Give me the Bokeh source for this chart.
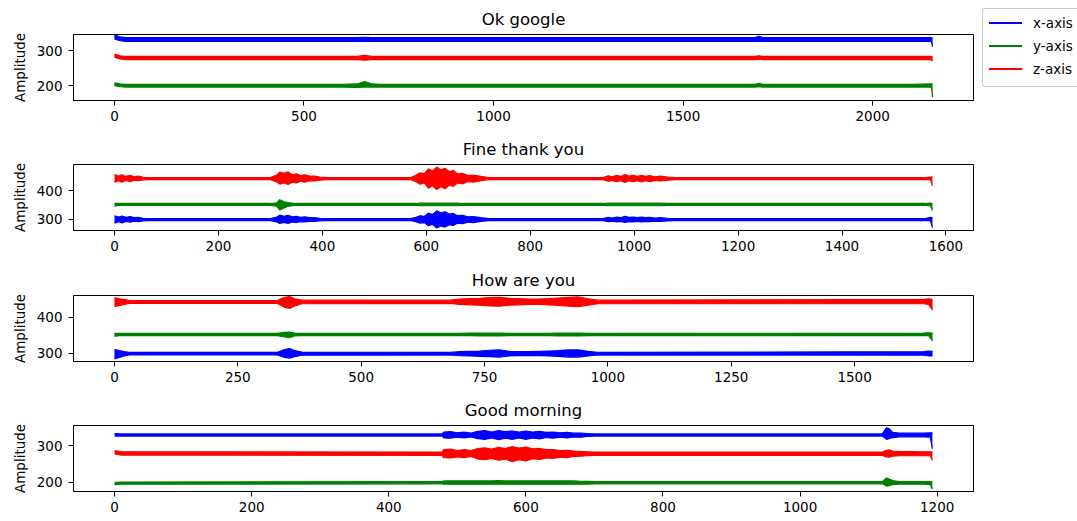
from bokeh.plotting import figure
from bokeh.layouts import column, row
from bokeh.models import FixedTicker, Range1d, Div
from bokeh.embed import file_html
from bokeh.resources import INLINE

# ---------------- data (envelopes) ----------------
TITLES = ["Ok google", "Fine thank you", "How are you", "Good morning"]
SERIES_NAMES = ["x-axis", "y-axis", "z-axis"]
COLORS = ["#0000ff", "#008000", "#ff0000"]

# Ok google
s1_x = [0, 15, 30, 200, 400, 600, 640, 660, 680, 700, 900, 1100, 1300, 1500, 1690, 1700, 1710, 1900, 2100, 2150, 2155, 2158]
s1_x_lo = [334, 329, 327, 327, 327, 327, 327, 327, 327, 327, 327, 327, 327, 327, 327, 328, 327, 327, 327, 327, 326, 312]
s1_x_hi = [345, 340, 338, 338, 338, 338, 338, 339, 338, 338, 338, 338, 338, 338, 338, 342, 338, 338, 338, 338, 338, 337]
s1_y_lo = [200, 197, 196, 196, 196, 196, 195, 196, 196, 196, 196, 196, 196, 196, 196, 197, 196, 196, 196, 196, 195, 167]
s1_y_hi = [208, 205, 204, 204, 204, 204, 205, 212, 205, 204, 204, 204, 204, 204, 204, 207, 204, 204, 204, 205, 205, 205]
s1_z_lo = [282, 277, 275, 275, 275, 275, 275, 273, 275, 275, 275, 275, 275, 275, 275, 276, 275, 275, 275, 275, 274, 271]
s1_z_hi = [291, 286, 284, 284, 284, 284, 284, 287, 284, 284, 284, 284, 284, 284, 284, 286, 284, 284, 284, 284, 284, 283]

# Fine thank you
s2_x = [0, 8, 14, 22, 30, 38, 46, 55, 65,
        300, 312, 318, 326, 334, 342, 350, 358, 366, 375, 385, 395, 410,
        570, 580, 588, 596, 604, 612, 620, 628, 636, 644, 652, 660, 670, 680, 690, 705, 720,
        940, 950, 958, 966, 974, 982, 990, 998, 1006, 1014, 1022, 1030, 1040, 1050, 1065, 1080,
        1560, 1570, 1574]
s2_x_lo = [287, 292, 288, 293, 290, 294, 292, 295, 296,
           296, 291, 286, 289, 286, 291, 289, 292, 291, 293, 293, 295, 296,
           296, 292, 287, 289, 278, 283, 270, 277, 273, 281, 279, 287, 285, 290, 289, 293, 296,
           296, 292, 294, 291, 293, 289, 292, 291, 293, 291, 293, 292, 294, 293, 295, 296,
           296, 296, 271]
s2_x_hi = [313, 308, 312, 307, 310, 306, 307, 304, 303,
           303, 308, 315, 311, 314, 309, 311, 307, 309, 306, 306, 304, 303,
           303, 307, 313, 310, 322, 317, 330, 323, 327, 319, 321, 313, 314, 309, 310, 306, 303,
           303, 307, 305, 308, 306, 311, 307, 308, 306, 308, 306, 307, 305, 306, 304, 303,
           303, 307, 306]
s2_y_lo = [347, 349, 349, 349, 349, 349, 349, 349, 349,
           349, 347, 333, 340, 346, 348, 349, 349, 349, 349, 349, 349, 349,
           349, 349, 348, 348, 348, 348, 348, 348, 348, 348, 348, 348, 349, 349, 349, 349, 349,
           349, 348, 348, 348, 348, 348, 348, 348, 348, 348, 348, 348, 348, 348, 349, 349,
           349, 348, 331]
s2_y_hi = [356, 356, 356, 356, 356, 356, 356, 356, 356,
           356, 358, 369, 362, 359, 357, 356, 356, 356, 356, 356, 356, 356,
           356, 356, 357, 357, 357, 357, 357, 357, 357, 357, 357, 357, 356, 356, 356, 356, 356,
           356, 357, 357, 357, 357, 357, 357, 357, 357, 357, 357, 357, 357, 357, 356, 356,
           356, 357, 356]
s2_z_lo = [430, 436, 431, 437, 433, 438, 436, 439, 440,
           440, 432, 424, 428, 423, 431, 428, 434, 431, 436, 435, 438, 440,
           440, 433, 424, 428, 410, 418, 405, 415, 408, 420, 416, 428, 425, 433, 431, 436, 440,
           440, 434, 437, 433, 436, 430, 435, 433, 436, 432, 436, 433, 437, 435, 438, 440,
           440, 440, 418]
s2_z_hi = [458, 452, 457, 451, 455, 450, 452, 448, 447,
           447, 456, 466, 462, 467, 457, 460, 454, 457, 452, 452, 449, 447,
           447, 455, 464, 460, 478, 470, 484, 474, 480, 468, 472, 460, 462, 454, 456, 451, 447,
           447, 453, 450, 455, 451, 458, 452, 455, 451, 455, 451, 454, 450, 452, 449, 447,
           447, 449, 450]

# How are you
s3_x = [0, 10, 20, 30, 330, 345, 355, 365, 380, 680, 700, 720, 740, 760, 780, 800, 820, 840, 860, 880, 900, 920, 940, 960,
        980, 1640, 1650, 1658]
s3_x_lo = [284, 288, 292, 295, 295, 288, 286, 290, 294, 295, 293, 292, 291, 290, 289, 292, 293, 293, 293, 292, 291, 289, 289,
           292, 295, 294, 292, 292]
s3_x_hi = [310, 307, 304, 302, 302, 310, 313, 307, 303, 302, 304, 305, 306, 308, 309, 305, 304, 304, 305, 306, 307, 309, 309,
           305, 302, 304, 306, 305]
s3_y_lo = [347, 349, 349, 349, 349, 345, 343, 348, 349, 349, 349, 349, 348, 348, 348, 349, 349, 349, 349, 349, 348, 348, 348,
           349, 349, 349, 349, 334]
s3_y_hi = [355, 355, 355, 355, 355, 358, 359, 356, 355, 355, 355, 356, 356, 356, 356, 355, 355, 355, 355, 355, 356, 356, 356,
           355, 355, 356, 357, 356]
s3_z_lo = [430, 433, 436, 439, 439, 428, 425, 432, 438, 439, 436, 435, 434, 432, 431, 434, 435, 436, 436, 435, 433, 431, 430,
           434, 438, 438, 436, 421]
s3_z_hi = [455, 452, 450, 447, 447, 456, 458, 452, 448, 448, 451, 452, 453, 455, 456, 453, 452, 451, 451, 452, 454, 456, 457,
           452, 448, 450, 452, 450]

# Good morning
s4_x = [0, 10, 470, 478, 480, 490, 500, 510, 520, 530, 540, 550, 560, 570, 580, 590, 600, 610, 620, 630, 640, 650, 660, 670,
        680, 690, 700, 1120, 1126, 1130, 1135, 1145, 1180, 1190, 1193]
s4_x_lo = [327, 327, 327, 327, 322, 321, 324, 322, 325, 320, 318, 322, 317, 321, 318, 322, 318, 322, 319, 323, 321, 324, 322, 325,
           324, 326, 327, 327, 318, 320, 323, 325, 325, 324, 292]
s4_x_hi = [334, 333, 333, 333, 338, 339, 336, 338, 335, 340, 342, 338, 342, 339, 341, 338, 341, 338, 340, 337, 338, 336, 337, 335,
           335, 334, 333, 333, 350, 347, 337, 335, 335, 336, 336]
s4_y_lo = [194, 195, 196, 196, 195, 195, 195, 195, 195, 195, 195, 195, 195, 195, 195, 195, 195, 195, 195, 195, 195, 195, 195, 195,
           195, 195, 196, 196, 190, 191, 194, 195, 195, 194, 181]
s4_y_hi = [200, 201, 202, 202, 204, 204, 204, 204, 204, 204, 204, 204, 205, 204, 204, 204, 204, 204, 204, 204, 204, 204, 204, 204,
           203, 203, 202, 202, 212, 209, 205, 202, 202, 202, 201]
s4_z_lo = [278, 275, 274, 274, 268, 267, 270, 268, 271, 264, 262, 266, 261, 264, 257, 262, 259, 265, 263, 267, 266, 269, 268, 271,
           272, 273, 274, 274, 270, 269, 272, 273, 273, 273, 260]
s4_z_hi = [287, 284, 283, 283, 290, 291, 287, 290, 287, 293, 295, 291, 296, 293, 298, 294, 297, 292, 293, 290, 290, 287, 288, 286,
           285, 284, 283, 283, 288, 289, 286, 285, 284, 284, 283]

X_RANGES = [(-108, 2266), (-79, 1653), (-83, 1741), (-60, 1253)]
Y_RANGES = [(157.5, 347), (261, 493), (276.6, 461), (175, 356)]
X_TICKS = [[0, 500, 1000, 1500, 2000],
           [0, 200, 400, 600, 800, 1000, 1200, 1400, 1600],
           [0, 250, 500, 750, 1000, 1250, 1500],
           [0, 200, 400, 600, 800, 1000, 1200]]
Y_TICKS = [[200, 300], [300, 400], [300, 400], [200, 300]]

PANELS = [
    (s1_x, [(s1_x_lo, s1_x_hi), (s1_y_lo, s1_y_hi), (s1_z_lo, s1_z_hi)]),
    (s2_x, [(s2_x_lo, s2_x_hi), (s2_y_lo, s2_y_hi), (s2_z_lo, s2_z_hi)]),
    (s3_x, [(s3_x_lo, s3_x_hi), (s3_y_lo, s3_y_hi), (s3_z_lo, s3_z_hi)]),
    (s4_x, [(s4_x_lo, s4_x_hi), (s4_y_lo, s4_y_hi), (s4_z_lo, s4_z_hi)]),
]

FONT = "DejaVu Sans"
figs = []
for i in range(4):
    top = 34 if i < 2 else 35
    bottom = 30 if i < 2 else 29
    right = 8 if i == 0 else 104
    p = figure(width=73 + 900 + right, height=130,
               x_range=Range1d(*X_RANGES[i]), y_range=Range1d(*Y_RANGES[i]),
               output_backend="svg", toolbar_location=None,
               min_border_left=73, min_border_right=right,
               min_border_top=top, min_border_bottom=bottom)
    p.title.text = TITLES[i]
    p.title.align = "center"
    p.title.text_font = FONT
    p.title.text_font_size = "16.5px"
    p.title.text_font_style = "normal"
    p.title.text_color = "black"
    p.title.standoff = 12
    p.grid.visible = False
    p.outline_line_color = "black"
    p.outline_line_alpha = 1
    p.outline_line_width = 1
    for ax in (p.xaxis[0], p.yaxis[0]):
        ax.axis_line_color = "black"
        ax.major_tick_line_color = "black"
        ax.major_tick_out = 5
        ax.major_tick_in = 0
        ax.minor_tick_line_color = None
        ax.major_label_text_font = FONT
        ax.major_label_text_font_size = "13.5px"
        ax.major_label_text_color = "black"
    p.xaxis[0].ticker = FixedTicker(ticks=X_TICKS[i])
    p.yaxis[0].ticker = FixedTicker(ticks=Y_TICKS[i])
    p.xaxis[0].major_label_standoff = 5
    p.yaxis[0].major_label_standoff = 6
    p.yaxis[0].axis_label = "Amplitude"
    p.yaxis[0].axis_label_text_font = FONT
    p.yaxis[0].axis_label_text_font_size = "13.5px"
    p.yaxis[0].axis_label_text_font_style = "normal"
    p.yaxis[0].axis_label_text_color = "black"
    p.yaxis[0].axis_label_standoff = 6

    xs, bands = PANELS[i]
    for (lo, hi), c in zip(bands, COLORS):
        p.varea(x=xs, y1=lo, y2=hi, fill_color=c, fill_alpha=1)
        p.line(xs, lo, line_color=c, line_width=1.2)
        p.line(xs, hi, line_color=c, line_width=1.2)
    figs.append(p)

# legend, drawn beside the first plot (its box runs off the right edge, as in the reference)
rows_html = "".join(
    f'<div style="height:20px;margin-bottom:3px;display:flex;align-items:center;white-space:nowrap;">'
    f'<span style="display:inline-block;width:33px;height:2px;background:{c};"></span>'
    f'<span style="margin-left:11px;font-family:\'DejaVu Sans\';font-size:13.5px;color:black;line-height:20px;">{n}</span>'
    f'</div>'
    for n, c in zip(SERIES_NAMES, COLORS))
legend_html = (
    '<div style="margin-top:8px;margin-left:1px;border:1px solid #cccccc;border-right:none;'
    'border-radius:3px 0 0 3px;padding:3.5px 0 0 6px;width:88px;height:73px;overflow:hidden;'
    'background:rgba(255,255,255,0.8);box-sizing:content-box;">' + rows_html + '</div>')
legend_div = Div(text=legend_html, width=96, height=130,
                 styles={"margin": "0", "padding": "0", "overflow": "hidden"})

layout = column(row(figs[0], legend_div, spacing=0), *figs[1:], spacing=0)
open("out.html", "w").write(file_html(layout, INLINE))
